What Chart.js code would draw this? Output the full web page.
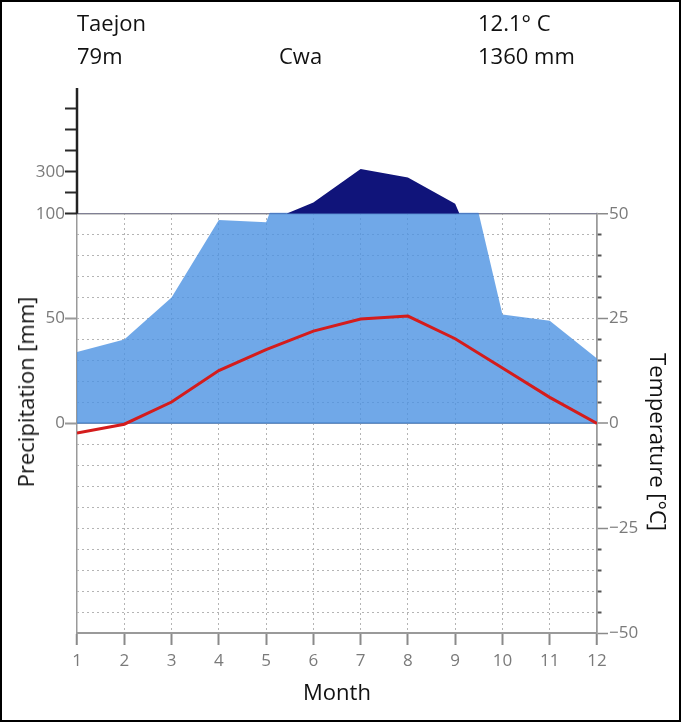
<!DOCTYPE html>
<html>
<head>
<meta charset="utf-8">
<script src="https://cdn.jsdelivr.net/npm/chart.js@4/dist/chart.umd.min.js"></script>
<style>
  html, body { margin: 0; padding: 0; background: #fff; }
  body { width: 681px; height: 722px; position: relative; overflow: hidden; font-family: 'Open Sans', sans-serif; color: #111; }
  #frame { position: absolute; left: 0; top: 0; width: 677px; height: 718px; border: 2px solid #000; pointer-events: none; }
  canvas { position: absolute; left: 0; top: 0; }
  .txt { position: absolute; font-size: 22px; line-height: 26px; white-space: nowrap; }
  .rot { position: absolute; font-size: 22px; line-height: 26px; white-space: nowrap; transform: translate(-50%, -50%) rotate(-90deg); }
  .rot.r { transform: translate(-50%, -50%) rotate(90deg); }
</style>
</head>
<body>
<canvas id="myChart" width="681" height="722"></canvas>
<div class="txt" style="left:77px; top:9px;">Taejon</div>
<div class="txt" style="left:77px; top:42px;">79m</div>
<div class="txt" style="left:279px; top:42px;">Cwa</div>
<div class="txt" style="left:478px; top:9px;">12.1° C</div>
<div class="txt" style="left:478px; top:42px;">1360 mm</div>
<div class="rot" style="left:25px; top:392px;">Precipitation [mm]</div>
<div class="rot r" style="left:659px; top:442px;">Temperature [°C]</div>
<div id="frame"></div>
<script>
const months = [1, 2, 3, 4, 5, 6, 7, 8, 9, 10, 11, 12];
const precipitation = [34, 40, 60, 97, 96, 154, 313, 273, 148, 52, 49, 31]; // mm
const temperature = [-2.3, -0.2, 5.1, 12.6, 17.6, 22.0, 24.9, 25.6, 20.2, 13.2, 6.2, 0.0]; // °C
const leftTickLabels = { 0: "0", 25: "50", 50: "100", 60: "300" };
const rightTickLabels = [-50, -25, 0, 25, 50];

// walter-lieth scale: 2 mm per °C up to 100 mm, 20 mm per °C above
const toTempScale = (p) => (p <= 100 ? p / 2 : 50 + (p - 100) / 20);
const precipScaled = precipitation.map(toTempScale);

const isEdge = (c) => c.tick && (c.tick.value === 1 || c.tick.value === 12);

const coverPlugin = {
  id: "cover",
  afterDatasetDraw(chart, args) {
    if (args.index !== 0) return;
    const { ctx, chartArea: a, scales } = chart;
    const y50 = scales.y.getPixelForValue(50);
    ctx.save();
    ctx.fillStyle = "#fff";
    ctx.fillRect(a.left + 1, a.top - 2, a.right - a.left + 4, y50 - a.top + 1);
    ctx.strokeStyle = "#222";
    ctx.lineWidth = 2.5;
    ctx.beginPath();
    ctx.moveTo(a.left, a.top);
    ctx.lineTo(a.left, y50);
    ctx.stroke();
    ctx.restore();
  },
};

Chart.defaults.font.family = "'Open Sans', sans-serif";

const ctx = document.getElementById("myChart").getContext("2d");
new Chart(ctx, {
  type: "line",
  data: {
    labels: months,
    datasets: [
      {
        label: "Precipitation",
        data: precipitation,
        yAxisID: "yP",
        order: 4,
        borderWidth: 0,
        pointRadius: 0,
        backgroundColor: "rgba(76, 146, 226, 0.8)",
        fill: "origin",
      },
      {
        label: "Precipitation > 100",
        data: precipScaled,
        yAxisID: "y",
        order: 3,
        borderWidth: 0,
        pointRadius: 0,
        fill: { target: { value: 50 }, above: "#10147a", below: "rgba(0,0,0,0)" },
      },
      {
        label: "Temperature",
        data: temperature,
        yAxisID: "y",
        order: 1,
        borderColor: "#d41c1c",
        borderWidth: 3,
        pointRadius: 0,
        fill: false,
      },
    ],
  },
  options: {
    responsive: false,
    animation: false,
    devicePixelRatio: 1,
    layout: { padding: { top: 88, left: 0, right: 0, bottom: 0 } },
    plugins: { legend: { display: false }, tooltip: { enabled: false } },
    scales: {
      x: {
        type: "linear",
        min: 1,
        max: 12,
        ticks: { stepSize: 1, maxTicksLimit: 20, autoSkip: false, color: "#7a7a7a", font: { size: 17 }, padding: 6 },
        grid: {
          color: (c) => (isEdge(c) ? "#9a9a9a" : "#b4b4b4"),
          lineWidth: (c) => (isEdge(c) ? 1.5 : 1),
          tickColor: "#8a8a8a",
          tickWidth: 2,
          tickLength: 12,
        },
        border: { color: "#9a9a9a", width: 2, dash: (c) => (c.tick && !isEdge(c) ? [2, 3] : []) },
        title: { display: true, text: "Month", color: "#111", font: { size: 22 }, padding: { top: 0, bottom: 15 } },
        afterFit: (s) => { s.height = 89; },
      },
      yL: {
        position: "left",
        min: -50,
        max: 80,
        ticks: {
          stepSize: 5,
          maxTicksLimit: 40,
          autoSkip: false,
          color: "#7a7a7a",
          font: { size: 17 },
          padding: 0,
          callback: (v) => (leftTickLabels[v] !== undefined ? leftTickLabels[v] : ""),
        },
        grid: {
          drawOnChartArea: false,
          tickLength: 12,
          tickWidth: 2,
          tickColor: (c) => {
            const v = c.tick && c.tick.value;
            if (v >= 50 && v < 80) return "#2a2a2a";
            if (v === 0 || v === 25) return "#999";
            return "rgba(0,0,0,0)";
          },
        },
        border: { display: false },
        afterFit: (s) => { s.width = 77; },
      },
      y: {
        position: "right",
        min: -50,
        max: 80,
        ticks: {
          stepSize: 5,
          maxTicksLimit: 40,
          autoSkip: false,
          color: "#7a7a7a",
          font: { size: 17 },
          padding: 1,
          callback: (v) => (rightTickLabels.includes(v) ? (v < 0 ? "\u2212" + Math.abs(v) : String(v)) : ""),
        },
        grid: {
          color: (c) => {
            const v = c.tick && c.tick.value;
            if (v > 50) return "rgba(0,0,0,0)";
            if (v === 0) return "#7d8ca3";
            if (v === 50 || v === -50) return "#9a9a9a";
            return "#b4b4b4";
          },
          lineWidth: (c) => {
            const v = c.tick && c.tick.value;
            if (v === 0) return 2;
            if (v === 50) return 1.5;
            return 1;
          },
          tickLength: 11,
          tickWidth: (c) => (c.tick && c.tick.value % 25 === 0 ? 1.5 : 2),
          tickColor: (c) => {
            const v = c.tick && c.tick.value;
            if (v > 50) return "rgba(0,0,0,0)";
            return v % 25 === 0 ? "#8a8a8a" : "#555";
          },
          tickBorderDash: (c) => (c.tick && c.tick.value % 25 === 0 ? [] : [4, 30]),
        },
        border: {
          color: "#9a9a9a",
          width: 1.5,
          dash: (c) => {
            const v = c.tick && c.tick.value;
            if (v === undefined || v === 0 || v === 50 || v === -50) return [];
            return [2, 3];
          },
        },
        afterFit: (s) => { s.width = 84; },
      },
      yP: {
        display: false,
        min: -100,
        max: 160,
      },
    },
  },
  plugins: [coverPlugin],
});
</script>
</body>
</html>
